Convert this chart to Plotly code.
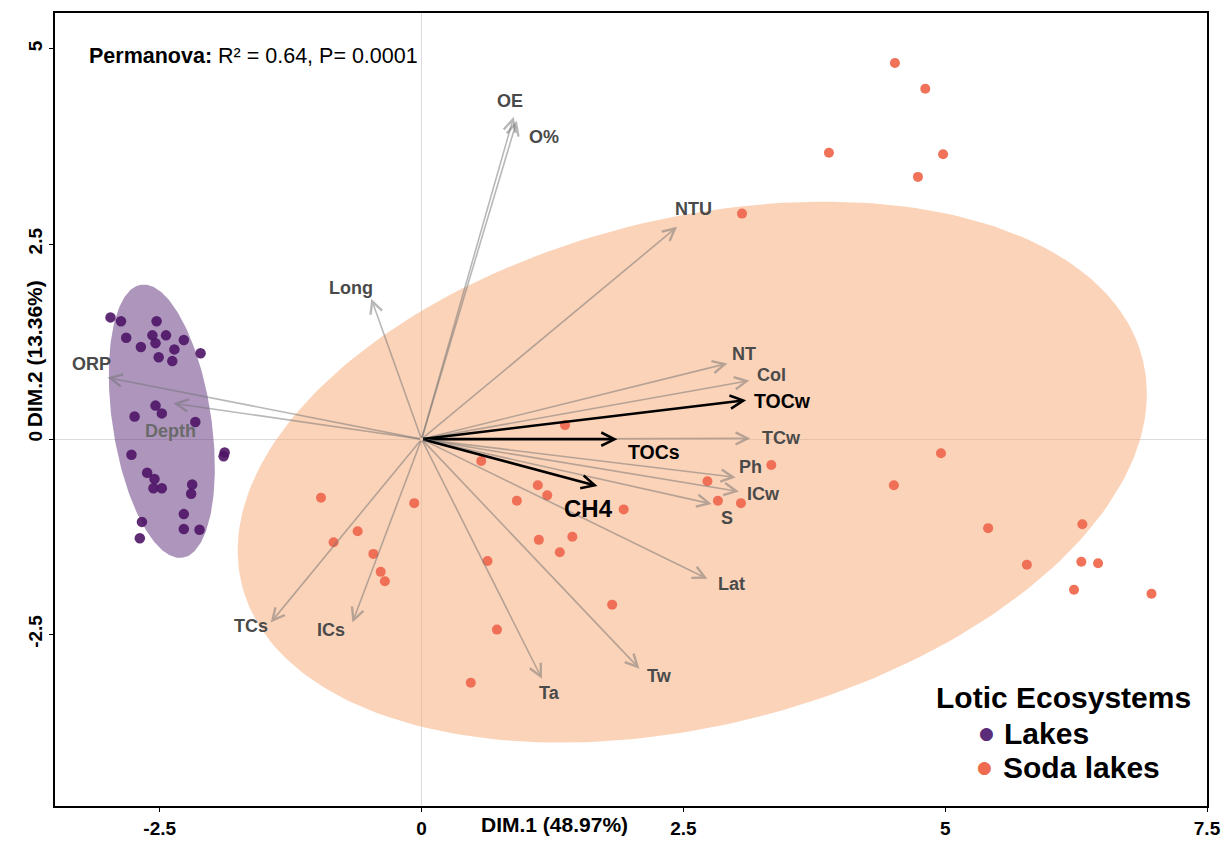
import numpy as np
import plotly.graph_objects as go

# ---------------- data ----------------
lakes_x = [-2.97, -2.87, -2.53, -2.82, -2.57, -2.44, -2.54, -2.68, -2.27, -2.36, -2.51, -2.38,
           -2.11, -2.54, -2.48, -2.74, -2.16, -2.77, -1.88, -1.89, -2.62, -2.55, -2.56, -2.48,
           -2.19, -2.20, -2.27, -2.67, -2.27, -2.12, -2.69]
lakes_y = [1.56, 1.51, 1.51, 1.30, 1.33, 1.33, 1.23, 1.18, 1.27, 1.15, 1.05, 1.00,
           1.10, 0.43, 0.33, 0.29, 0.22, -0.20, -0.17, -0.22, -0.43, -0.51, -0.63, -0.63,
           -0.58, -0.70, -0.96, -1.06, -1.15, -1.16, -1.27]

soda_x = [1.37, 0.57, -0.07, 0.91, 1.11, 1.20, 1.93, 2.73, 2.83, 3.05, 3.34, 1.12, 1.44,
          1.32, 0.63, -0.96, -0.61, -0.84, -0.46, -0.39, -0.35, 1.82, 0.72, 0.47, 4.96,
          4.51, 5.41, 6.31, 5.78, 6.30, 6.46, 6.23, 6.97, 4.52, 4.81, 3.89, 4.98, 4.74, 3.06]
soda_y = [0.18, -0.28, -0.82, -0.79, -0.59, -0.72, -0.90, -0.54, -0.79, -0.82, -0.33, -1.29,
          -1.25, -1.45, -1.56, -0.75, -1.18, -1.32, -1.47, -1.70, -1.82, -2.12, -2.44, -3.12,
          -0.18, -0.59, -1.14, -1.09, -1.61, -1.57, -1.59, -1.93, -1.98, 4.82, 4.49, 3.67,
          3.65, 3.36, 2.89]

var_names = ["OE", "O%", "NTU", "Long", "NT", "Col", "TOCw", "TCw", "TOCs", "Ph", "ICw", "S",
             "CH4", "Lat", "Tw", "Ta", "ICs", "TCs", "ORP", "Depth"]
var_x = [0.88, 0.91, 2.44, -0.48, 2.92, 3.13, 3.10, 3.14, 1.87, 3.00, 3.03, 2.77,
         1.68, 2.73, 2.08, 1.15, -0.66, -1.44, -3.00, -2.37]
var_y = [4.13, 4.08, 2.72, 1.80, 0.97, 0.75, 0.50, 0.01, 0.00, -0.49, -0.67, -0.83,
         -0.60, -1.79, -2.94, -3.07, -2.35, -2.35, 0.79, 0.46]
highlight_vars = ["TOCw", "TOCs", "CH4"]

x_ticks = [-2.5, 0, 2.5, 5, 7.5]
x_tick_text = ["-2.5", "0", "2.5", "5", "7.5"]
y_ticks = [-2.5, 0, 2.5, 5]
y_tick_text = ["-2.5", "0", "2.5", "5"]

# 95% ellipse parameters (centre, semi-axis vectors in data units)
lakes_ell = dict(c=(-2.48, 0.23), a=(-0.198, 1.749), b=(0.466, 0.096))
soda_ell = dict(c=(2.585, -0.422), a=(4.302, 1.438), b=(-0.578, 3.153))

# ---------------- style ----------------
FONT = "Liberation Sans, Arial, sans-serif"
PURPLE = "#4E1466"
ORANGE = "#EE6A50"
label_offsets = {  # pixel offsets of labels from arrow tips
    "OE": (-4, 16), "O%": (27, -16), "NTU": (16, 18), "Long": (-20, 11), "NT": (17, 9),
    "Col": (22, 6), "TOCw": (36, -1), "TCw": (31, 0), "TOCs": (37, -13), "Ph": (15, 10),
    "ICw": (25, -3), "S": (15, -14), "CH4": (-9, -23), "Lat": (24, -5), "Tw": (20, -7),
    "Ta": (8, -14), "ICs": (-21, -7), "TCs": (-20, -3), "ORP": (-16, 14), "Depth": (-3, -28),
}


def ellipse(p, n=240):
    t = np.linspace(0, 2 * np.pi, n)
    ex = p["c"][0] + p["a"][0] * np.cos(t) + p["b"][0] * np.sin(t)
    ey = p["c"][1] + p["a"][1] * np.cos(t) + p["b"][1] * np.sin(t)
    return ex, ey


def px_x(p):
    return (p - 55) / 1162


def px_y(p):
    return (806 - p) / 795


fig = go.Figure()

sx, sy = ellipse(soda_ell)
fig.add_trace(go.Scatter(x=sx, y=sy, mode="lines", fill="toself",
                         fillcolor="rgba(247,168,115,0.5)", line=dict(width=0),
                         hoverinfo="skip", showlegend=False))
lx, ly = ellipse(lakes_ell)
fig.add_trace(go.Scatter(x=lx, y=ly, mode="lines", fill="toself",
                         fillcolor="rgba(91,44,122,0.5)", line=dict(width=0),
                         hoverinfo="skip", showlegend=False))

fig.add_trace(go.Scatter(x=lakes_x, y=lakes_y, mode="markers", name="Lakes",
                         marker=dict(size=10.5, color=PURPLE, opacity=0.9), showlegend=False))
fig.add_trace(go.Scatter(x=soda_x, y=soda_y, mode="markers", name="Soda lakes",
                         marker=dict(size=10, color=ORANGE, opacity=0.95), showlegend=False))

annotations = []
for name, vx, vy in zip(var_names, var_x, var_y):
    hl = name in highlight_vars
    annotations.append(dict(
        x=vx, y=vy, ax=0, ay=0, xref="x", yref="y", axref="x", ayref="y", text="",
        showarrow=True, arrowhead=5,
        arrowsize=1.0 if hl else 1.5, arrowwidth=2.6 if hl else 1.6,
        arrowcolor="black" if hl else "rgba(115,115,115,0.5)"))
for name, vx, vy in zip(var_names, var_x, var_y):
    hl = name in highlight_vars
    dx, dy = label_offsets[name]
    size = 24 if name == "CH4" else (19.5 if hl else 18)
    col = "black" if hl else ("#6a6a6a" if name == "Depth" else "#4a4a4a")
    annotations.append(dict(
        x=vx, y=vy, xref="x", yref="y", text="<b>%s</b>" % name, showarrow=False,
        xshift=dx, yshift=dy, font=dict(family=FONT, size=size, color=col)))

# text annotations
annotations += [
    dict(x=px_x(87), y=px_y(54), xref="paper", yref="paper", xanchor="left", yanchor="middle",
         showarrow=False, text="<b>Permanova:</b> R² = 0.64, P= 0.0001",
         font=dict(family=FONT, size=21.5, color="black")),
    dict(x=px_x(559), y=px_y(825), xref="paper", yref="paper", xanchor="center", yanchor="middle",
         showarrow=False, text="<b>DIM.1 (48.97%)</b>", font=dict(family=FONT, size=21, color="black")),
    dict(x=px_x(34), y=px_y(353), xref="paper", yref="paper", xanchor="center", yanchor="middle",
         textangle=-90, showarrow=False, text="<b>DIM.2 (13.36%)</b>",
         font=dict(family=FONT, size=21, color="black")),
    dict(x=px_x(942), y=px_y(697), xref="paper", yref="paper", xanchor="left", yanchor="middle",
         showarrow=False, text="<b>Lotic Ecosystems</b>", font=dict(family=FONT, size=30, color="black")),
    dict(x=px_x(995), y=px_y(733), xref="paper", yref="paper", xanchor="center",
         yanchor="middle", showarrow=False, text="●", font=dict(family="DejaVu Sans", size=17, color="#5B2C7A")),
    dict(x=px_x(1010), y=px_y(733), xref="paper", yref="paper", xanchor="left",
         yanchor="middle", showarrow=False, text="<b>Lakes</b>", font=dict(family=FONT, size=30, color="black")),
    dict(x=px_x(993), y=px_y(767), xref="paper", yref="paper", xanchor="center",
         yanchor="middle", showarrow=False, text="●", font=dict(family="DejaVu Sans", size=17, color=ORANGE)),
    dict(x=px_x(1009), y=px_y(767), xref="paper", yref="paper", xanchor="left",
         yanchor="middle", showarrow=False, text="<b>Soda lakes</b>", font=dict(family=FONT, size=30, color="black")),
]

axis_common = dict(showgrid=False, zeroline=True, zerolinecolor="#DCDCDC", zerolinewidth=1,
                   showline=True, mirror=True, linecolor="black", linewidth=1.6,
                   ticks="outside", ticklen=4, tickwidth=1.4, tickcolor="black",
                   tickfont=dict(family=FONT, size=19, color="black", weight="bold"))

fig.update_layout(
    width=1232, height=861,
    margin=dict(l=55, r=15, t=11, b=55),
    plot_bgcolor="white", paper_bgcolor="white",
    xaxis=dict(range=[-3.5, 7.5], tickvals=x_ticks, ticktext=x_tick_text, **axis_common),
    yaxis=dict(range=[-4.7, 5.46], tickvals=y_ticks, ticktext=y_tick_text, tickangle=-90,
               **axis_common),
    annotations=annotations,
    showlegend=False,
)

fig.write_html("out.html")
